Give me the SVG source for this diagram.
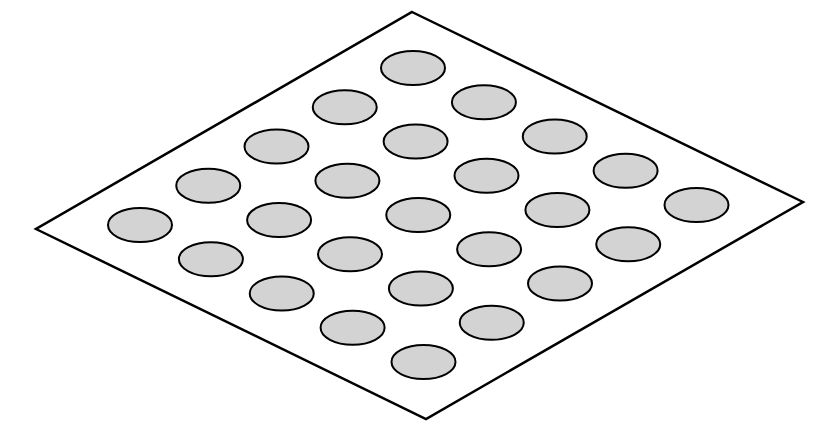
<svg xmlns="http://www.w3.org/2000/svg" width="838" height="434" viewBox="0 0 838 434">
<style>
.plate{fill:#ffffff;stroke:#000000;stroke-width:2.5;stroke-linejoin:miter}
.dot{fill:#d3d3d3;stroke:#000000;stroke-width:2}
</style>
<rect width="838" height="434" fill="#ffffff"/>
<polygon id="plate" class="plate" points="412,12 803,202 426,419 36,229"/>
<g id="dots">
<ellipse class="dot" cx="140" cy="225" rx="32" ry="17"/>
<ellipse class="dot" cx="210.9" cy="259.25" rx="32" ry="17"/>
<ellipse class="dot" cx="281.75" cy="293.5" rx="32" ry="17"/>
<ellipse class="dot" cx="352.6" cy="327.75" rx="32" ry="17"/>
<ellipse class="dot" cx="423.5" cy="362" rx="32" ry="17"/>
<ellipse class="dot" cx="208.25" cy="185.75" rx="32" ry="17"/>
<ellipse class="dot" cx="279.1" cy="220" rx="32" ry="17"/>
<ellipse class="dot" cx="350" cy="254.25" rx="32" ry="17"/>
<ellipse class="dot" cx="420.9" cy="288.5" rx="32" ry="17"/>
<ellipse class="dot" cx="491.75" cy="322.75" rx="32" ry="17"/>
<ellipse class="dot" cx="276.5" cy="146.5" rx="32" ry="17"/>
<ellipse class="dot" cx="347.4" cy="180.75" rx="32" ry="17"/>
<ellipse class="dot" cx="418.25" cy="215" rx="32" ry="17"/>
<ellipse class="dot" cx="489.1" cy="249.25" rx="32" ry="17"/>
<ellipse class="dot" cx="560" cy="283.5" rx="32" ry="17"/>
<ellipse class="dot" cx="344.75" cy="107.25" rx="32" ry="17"/>
<ellipse class="dot" cx="415.6" cy="141.5" rx="32" ry="17"/>
<ellipse class="dot" cx="486.5" cy="175.75" rx="32" ry="17"/>
<ellipse class="dot" cx="557.4" cy="210" rx="32" ry="17"/>
<ellipse class="dot" cx="628.25" cy="244.25" rx="32" ry="17"/>
<ellipse class="dot" cx="413" cy="68" rx="32" ry="17"/>
<ellipse class="dot" cx="483.9" cy="102.25" rx="32" ry="17"/>
<ellipse class="dot" cx="554.75" cy="136.5" rx="32" ry="17"/>
<ellipse class="dot" cx="625.6" cy="170.75" rx="32" ry="17"/>
<ellipse class="dot" cx="696.5" cy="205" rx="32" ry="17"/>
</g>
</svg>
